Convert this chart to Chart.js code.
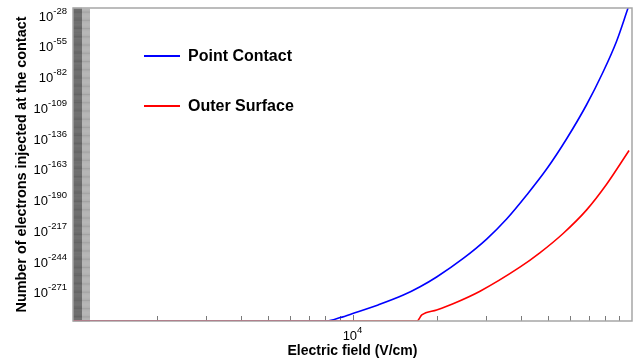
<!DOCTYPE html>
<html lang="en">
<head>
<meta charset="UTF-8">
<title>Electrons injected at the contact</title>
<script src="https://cdn.jsdelivr.net/npm/chart.js@4.4.3/dist/chart.umd.min.js"></script>
<style>
  html, body { margin: 0; padding: 0; background: #fff; }
  #wrap { width: 635px; height: 363px; }
</style>
</head>
<body>
<div id="wrap"><canvas id="chart"></canvas></div>
<script>
// values: field in V/cm, number of electrons injected
const fieldPoint   = [1000, 8100, 9040, 10080, 12350, 15200, 17450, 20000, 24900, 30200, 35600, 42000, 49500, 58300, 68700, 78800, 88000, 96800];
const pointContact = [1e-295, 1e-295, 1e-292, 6e-289, 1.3e-281, 6e-273, 1.3e-265, 5e-257, 1e-240, 1e-223, 4e-206, 5e-185, 3e-162, 8e-136, 6e-106, 6e-77, 4e-50, 1e-20];

const fieldOuter   = [1000, 17000, 17700, 20000, 22900, 28600, 39700, 46800, 56700, 68700, 81000, 97600];
const outerSurface = [1e-295, 1e-295, 2e-290, 5e-286, 1.6e-280, 1.6e-269, 2e-248, 8e-236, 8e-219, 2.5e-198, 8e-176, 6e-146];

// labelled decades on each axis
const yTickExps = [-28, -55, -82, -109, -136, -163, -190, -217, -244, -271];
const xTickExps = [4];
const yMinExp = -295, yMaxExp = -20;

const legendNames  = ['Point Contact', 'Outer Surface'];
const legendColors = ['#0000ff', '#ff0000'];

const FONT = '"Liberation Sans", Arial, Helvetica, sans-serif';

// tecplot style frame: inward ticks, superscript labels, floating legend
const decor = {
  id: 'decor',
  beforeDatasetsDraw(chart) {
    const { ctx, chartArea: a, scales: { x, y } } = chart;
    ctx.save();
    for (let e = yMinExp; e < yMaxExp; e++) {
      for (let k = 1; k <= 9; k++) {
        const py = y.getPixelForValue(k * Math.pow(10, e));
        if (k === 1) {
          ctx.fillStyle = 'rgba(0,0,0,0.36)';
          ctx.fillRect(a.left, py - 0.5, 17, 1);
        } else {
          ctx.fillStyle = 'rgba(0,0,0,0.08)';
          ctx.fillRect(a.left, py - 0.5, 9, 1);
        }
      }
    }
    ctx.strokeStyle = '#7a7a7a';
    ctx.lineWidth = 1;
    for (let e = 3; e < 5; e++) {
      for (let k = 1; k <= 9; k++) {
        if (e === 3 && k === 1) continue;
        const px = Math.round(x.getPixelForValue(k * Math.pow(10, e))) + 0.5;
        const len = k === 1 ? 6 : 5;
        ctx.beginPath();
        ctx.moveTo(px, a.bottom);
        ctx.lineTo(px, a.bottom - len);
        ctx.stroke();
      }
    }
    ctx.restore();
  },
  afterDraw(chart) {
    const { ctx, chartArea: a, scales: { x, y } } = chart;
    ctx.save();
    ctx.strokeStyle = '#a6a6a6';
    ctx.lineWidth = 1.5;
    ctx.strokeRect(a.left, a.top, a.right - a.left, a.bottom - a.top);

    ctx.fillStyle = '#000';
    ctx.textBaseline = 'middle';
    yTickExps.forEach(e => {
      const py = y.getPixelForValue(Math.pow(10, e));
      ctx.textAlign = 'right';
      ctx.font = '9.5px ' + FONT;
      const sup = String(e);
      const w = ctx.measureText(sup).width;
      ctx.fillText(sup, 67, py - 6);
      ctx.font = '13px ' + FONT;
      ctx.fillText('10', 67 - w, py);
    });
    xTickExps.forEach(e => {
      const px = x.getPixelForValue(Math.pow(10, e));
      ctx.font = '13px ' + FONT;
      const w1 = ctx.measureText('10').width;
      ctx.font = '9.5px ' + FONT;
      const w2 = ctx.measureText(String(e)).width;
      const start = px - (w1 + w2) / 2;
      ctx.textAlign = 'left';
      ctx.font = '13px ' + FONT;
      ctx.fillText('10', start, 336);
      ctx.font = '9.5px ' + FONT;
      ctx.fillText(String(e), start + w1, 330);
    });

    legendNames.forEach((name, i) => {
      const ly = 56 + i * 50;
      ctx.strokeStyle = legendColors[i];
      ctx.lineWidth = 2;
      ctx.beginPath();
      ctx.moveTo(144, ly);
      ctx.lineTo(180, ly);
      ctx.stroke();
      ctx.fillStyle = '#000';
      ctx.textAlign = 'left';
      ctx.font = 'bold 16px ' + FONT;
      ctx.fillText(name, 188, ly + 1);
    });
    ctx.restore();
  }
};

new Chart(document.getElementById('chart'), {
  type: 'line',
  data: {
    datasets: [
      {
        label: 'Outer Surface',
        data: fieldOuter.map((f, i) => ({ x: f, y: outerSurface[i] })),
        borderColor: '#ff0000',
        order: 1
      },
      {
        label: 'Point Contact',
        data: fieldPoint.map((f, i) => ({ x: f, y: pointContact[i] })),
        borderColor: '#0000ff',
        order: 2
      }
    ]
  },
  options: {
    responsive: true,
    maintainAspectRatio: false,
    animation: false,
    devicePixelRatio: 1,
    layout: { padding: { top: 8, right: 3, left: 0, bottom: 0 } },
    elements: {
      point: { radius: 0 },
      line: { borderWidth: 1.6, cubicInterpolationMode: 'monotone' }
    },
    plugins: { legend: { display: false }, tooltip: { enabled: false } },
    scales: {
      x: {
        type: 'logarithmic',
        min: 1e3,
        max: 1e5,
        grid: { display: false },
        border: { display: false },
        ticks: { display: false },
        title: {
          display: true,
          text: 'Electric field (V/cm)',
          color: '#000',
          font: { family: FONT, size: 14, weight: 'bold' },
          padding: { top: 0, bottom: 3 }
        },
        afterFit: s => { s.height = 42; }
      },
      y: {
        type: 'logarithmic',
        min: Math.pow(10, yMinExp),
        max: Math.pow(10, yMaxExp),
        grid: { display: false },
        border: { display: false },
        ticks: { display: false },
        afterBuildTicks: s => { s.ticks = yTickExps.map(e => ({ value: Math.pow(10, e) })); },
        title: {
          display: true,
          text: 'Number of electrons injected at the contact',
          color: '#000',
          font: { family: FONT, size: 14.4, weight: 'bold' },
          padding: { top: 13, bottom: 0 }
        },
        afterFit: s => { s.width = 73; }
      }
    }
  },
  plugins: [decor]
});
</script>
</body>
</html>
